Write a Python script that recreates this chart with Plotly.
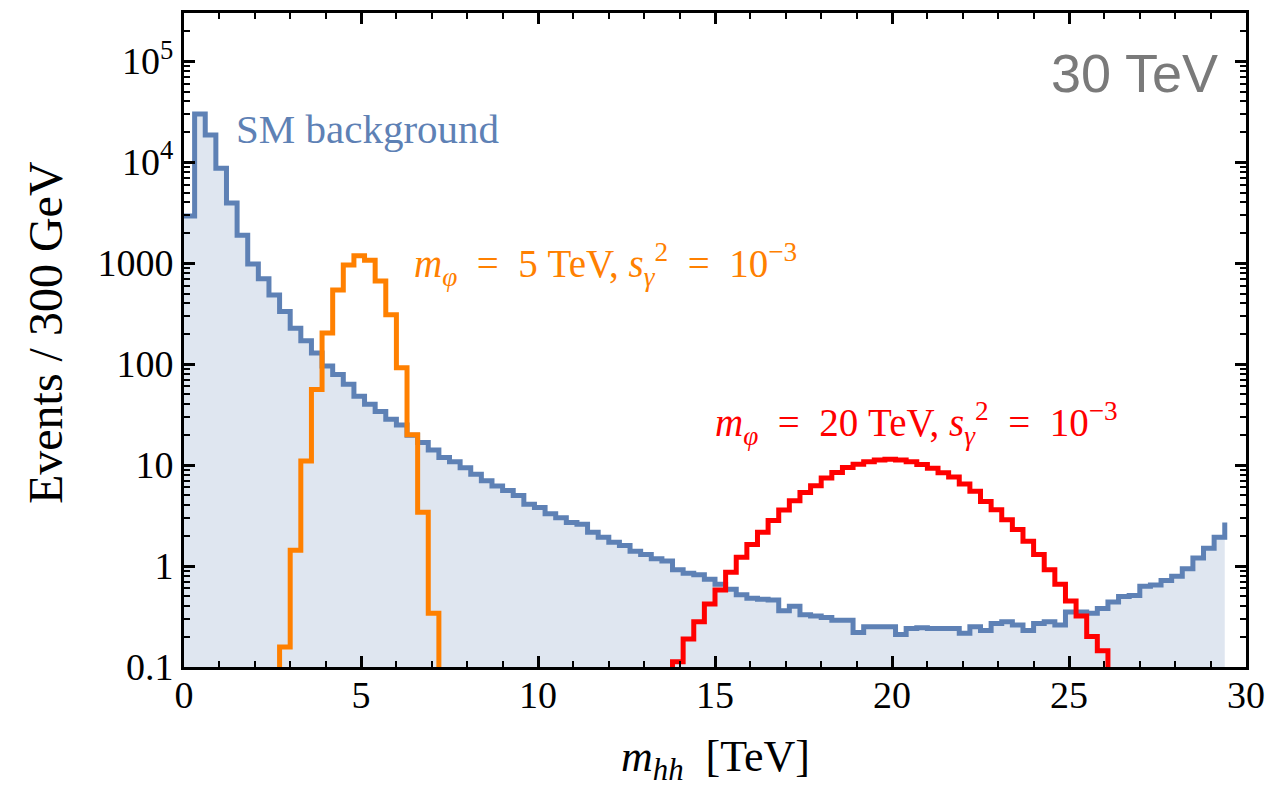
import numpy as np
import plotly.graph_objects as go

BIN_WIDTH = 0.3  # TeV per bin (300 GeV)
FLOOR = 1e-3     # stand-in for empty bins on the log axis

# SM background: events per bin, bins starting at 0 TeV
sm_background = [
    2930, 29900, 18600, 8700, 3940, 1890, 980, 700, 484, 332,
    227, 170, 129, 96, 79, 63, 48, 40, 34, 28.5,
    25, 19.7, 16.7, 14.1, 11.9, 10.8, 9.4, 8.1, 7.0, 6.2,
    5.6, 5.0, 4.1, 3.8, 3.3, 3.0, 2.7, 2.6, 2.16, 1.93,
    1.72, 1.6, 1.4, 1.3, 1.18, 1.12, 0.92, 0.85, 0.82, 0.74,
    0.66, 0.59, 0.52, 0.48, 0.47, 0.46, 0.36, 0.40, 0.33, 0.32,
    0.31, 0.29, 0.29, 0.22, 0.25, 0.25, 0.25, 0.21, 0.24, 0.245,
    0.24, 0.24, 0.24, 0.216, 0.25, 0.23, 0.27, 0.28, 0.26, 0.23,
    0.27, 0.28, 0.26, 0.35, 0.35, 0.34, 0.38, 0.44, 0.50, 0.51,
    0.63, 0.65, 0.72, 0.79, 0.94, 1.2, 1.5, 1.93,
]
sm_background_end = 2.7  # value at the upper edge of the last bin

# m_phi = 5 TeV signal, bins starting at 2.4 TeV
signal_5_start = 2.4
signal_5 = [0, 0.158, 1.43, 11, 56, 203, 543, 958, 1180, 1070,
            665, 308, 92, 20, 3.4, 0.34, 0]

# m_phi = 20 TeV signal, bins starting at 13.5 TeV
signal_20_start = 13.5
signal_20 = [0, 0.113, 0.189, 0.28, 0.42, 0.58, 0.87, 1.22, 1.63, 2.16,
             2.82, 3.59, 4.43, 5.36, 6.24, 7.43, 8.44, 9.45, 10.2, 10.8,
             11.2, 11.4, 11.2, 10.8, 10.1, 9.3, 8.4, 7.6, 6.5, 5.5,
             4.36, 3.6, 2.88, 2.3, 1.76, 1.3, 0.92, 0.66, 0.45, 0.32,
             0.20, 0.145, 0]

x_ticks = [0, 5, 10, 15, 20, 25, 30]
y_ticks = [0.1, 1, 10, 100, 1000, 1e4, 1e5]
y_ticktext = ["0.1", "1", "10", "100", "1000", "10<sup>4</sup>", "10<sup>5</sup>"]
y_top = 3e5

BLUE = "#5E81B5"
ORANGE = "#FF8000"
RED = "#FF0000"
SERIF = "Liberation Serif"
EQ = "\u2002=\u2002"  # wider spacing around the equals sign


def step_xy(start, values):
    v = np.asarray(values, dtype=float)
    x = start + BIN_WIDTH * np.arange(len(v))
    y = np.where(v > 0, v, FLOOR)
    return x, y


def signal_label(mass):
    return (f"<i>m</i><sub><i>φ</i></sub>{EQ}{mass} TeV, "
            f"<i>s</i><sub><i>γ</i></sub><sup>2</sup>{EQ}10<sup>−3</sup>")


bg_x, bg_y = step_xy(0.0, sm_background + [sm_background_end])
s5_x, s5_y = step_xy(signal_5_start, signal_5)
s20_x, s20_y = step_xy(signal_20_start, signal_20)

fig = go.Figure()

# shaded area under the background histogram
fig.add_trace(go.Scatter(
    x=np.concatenate([[bg_x[0]], bg_x, [bg_x[-1]]]),
    y=np.concatenate([[FLOOR], bg_y, [FLOOR]]),
    mode="lines", line=dict(width=0, shape="hv"),
    fill="toself", fillcolor="rgba(94,129,181,0.2)",
    hoverinfo="skip", showlegend=False,
))
fig.add_trace(go.Scatter(x=bg_x, y=bg_y, mode="lines",
                         line=dict(color=BLUE, width=5, shape="hv"),
                         showlegend=False))
fig.add_trace(go.Scatter(x=s5_x, y=s5_y, mode="lines",
                         line=dict(color=ORANGE, width=5, shape="hv"),
                         showlegend=False))
fig.add_trace(go.Scatter(x=s20_x, y=s20_y, mode="lines",
                         line=dict(color=RED, width=5, shape="hv"),
                         showlegend=False))

minor_y = [m * 10.0 ** e for e in range(-1, 6) for m in range(2, 10)]

fig.update_xaxes(
    range=[0, 30], showgrid=False, zeroline=False,
    showline=True, linewidth=3, linecolor="black", mirror="ticks",
    ticks="inside", ticklen=11, tickwidth=2.5, tickcolor="black",
    tickvals=x_ticks, ticklabelstandoff=-8,
    tickfont=dict(family=SERIF, size=38, color="black"),
    minor=dict(ticks="inside", ticklen=6, tickwidth=2, tickcolor="black", dtick=1),
)
fig.update_yaxes(
    type="log", range=[-1, np.log10(y_top)], showgrid=False, zeroline=False,
    showline=True, linewidth=3, linecolor="black", mirror="ticks",
    ticks="inside", ticklen=11, tickwidth=2.5, tickcolor="black",
    tickvals=y_ticks, ticktext=y_ticktext,
    tickfont=dict(family=SERIF, size=38, color="black"),
    minor=dict(ticks="inside", ticklen=6, tickwidth=2, tickcolor="black",
               tickvals=minor_y),
)

annotations = [
    dict(text="SM background", x=1.4, y=4.33, xref="x", yref="y",
         xanchor="left", yanchor="middle", showarrow=False,
         font=dict(family=SERIF, size=41, color=BLUE)),
    dict(text=signal_label(5), x=6.45, y=2.99, xref="x", yref="y",
         xanchor="left", yanchor="middle", showarrow=False,
         font=dict(family=SERIF, size=39, color=ORANGE)),
    dict(text=signal_label(20), x=14.95, y=1.41, xref="x", yref="y",
         xanchor="left", yanchor="middle", showarrow=False,
         font=dict(family=SERIF, size=39, color=RED)),
    dict(text="30 TeV", x=0.9756, y=0.909, xref="paper", yref="paper",
         xanchor="right", yanchor="middle", showarrow=False,
         font=dict(family="Liberation Sans", size=54, color="#7A7A7A")),
    dict(text="<i>m</i><sub><i>hh</i></sub>  [TeV]", x=0.5, y=-0.141,
         xref="paper", yref="paper", xanchor="center", yanchor="middle",
         showarrow=False, font=dict(family=SERIF, size=44, color="black")),
    dict(text="Events / 300 GeV", x=-0.131, y=0.512, textangle=-90,
         xref="paper", yref="paper", xanchor="center", yanchor="middle",
         showarrow=False, font=dict(family=SERIF, size=48, color="black")),
]

fig.update_layout(
    width=1275, height=788,
    margin=dict(l=184, r=26, t=10, b=121),
    paper_bgcolor="white", plot_bgcolor="white",
    showlegend=False, annotations=annotations,
)

fig.write_html("out.html")
